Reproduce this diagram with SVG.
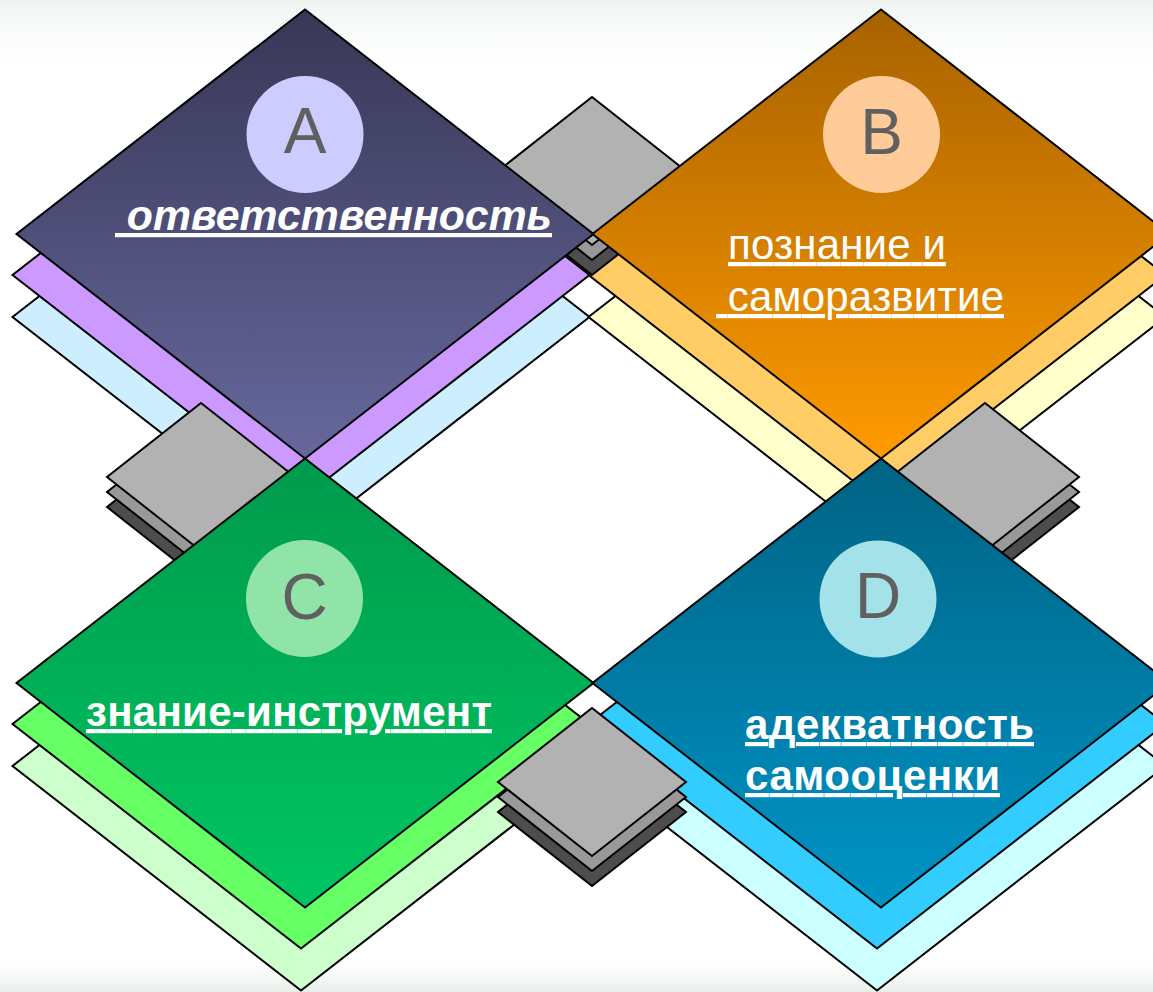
<svg xmlns="http://www.w3.org/2000/svg" xmlns:xlink="http://www.w3.org/1999/xlink" width="1153" height="992" viewBox="0 0 1153 992">
<style>
.st{stroke:#000;stroke-width:2;stroke-linejoin:miter}
.g1{fill:#b2b2b2}.g2{fill:#999999}.g3{fill:#4d4d4d}
.lt{font-family:"Liberation Sans",Arial,sans-serif;font-size:64px;fill:#606060;text-anchor:middle}
.lb{font-family:"Liberation Sans",Arial,sans-serif;font-size:42px;fill:#fff;text-decoration:underline;white-space:pre}
</style>
<defs>
<polygon id="dia" points="0,-224.5 288.5,0 0,224.5 -288.5,0"/>
<polygon id="sq" points="0,-74 94,0 0,74 -94,0"/>
<linearGradient id="gA" x1="0" y1="0" x2="0" y2="1"><stop offset="0" stop-color="#383756"/><stop offset="1" stop-color="#66689d"/></linearGradient>
<linearGradient id="gB" x1="0" y1="0" x2="0" y2="1"><stop offset="0" stop-color="#a76200"/><stop offset="1" stop-color="#ff9a00"/></linearGradient>
<linearGradient id="gC" x1="0" y1="0" x2="0" y2="1"><stop offset="0" stop-color="#009a4c"/><stop offset="1" stop-color="#00c562"/></linearGradient>
<linearGradient id="gD" x1="0" y1="0" x2="0" y2="1"><stop offset="0" stop-color="#006384"/><stop offset="1" stop-color="#0094c6"/></linearGradient>
<linearGradient id="bgT" x1="0" y1="0" x2="0" y2="1"><stop offset="0" stop-color="#eef3f2"/><stop offset="1" stop-color="#ffffff" stop-opacity="0"/></linearGradient>
<linearGradient id="bgB" x1="0" y1="0" x2="0" y2="1"><stop offset="0" stop-color="#ffffff" stop-opacity="0"/><stop offset="1" stop-color="#e9eeea"/></linearGradient>
</defs>
<rect width="1153" height="992" fill="#fff"/>
<rect width="1153" height="80" fill="url(#bgT)"/>
<rect y="950" width="1153" height="42" fill="url(#bgB)"/>

<g id="layers">
  <g id="A-layers">
    <use href="#dia" x="301" y="317" class="st" fill="#cdeeff"/>
    <use href="#dia" x="301" y="275" class="st" fill="#cc99ff"/>
  </g>
  <g id="B-layers">
    <use href="#dia" x="877" y="317" class="st" fill="#ffffcc"/>
    <use href="#dia" x="877" y="275" class="st" fill="#ffcc66"/>
  </g>
  <g id="C-layers">
    <use href="#dia" x="301" y="766" class="st" fill="#ccffcc"/>
    <use href="#dia" x="301" y="724" class="st" fill="#66ff66"/>
  </g>
  <g id="D-layers">
    <use href="#dia" x="877" y="766" class="st" fill="#ccffff"/>
    <use href="#dia" x="877" y="724" class="st" fill="#33ccff"/>
  </g>
</g>

<g id="connectors">
  <g id="link-AB">
    <use href="#sq" x="592" y="201" class="st g3"/>
    <use href="#sq" x="592" y="186" class="st g2"/>
    <use href="#sq" x="592" y="171" class="st g1"/>
  </g>
  <g id="link-AC">
    <use href="#sq" x="201" y="507" class="st g3"/>
    <use href="#sq" x="201" y="492" class="st g2"/>
    <use href="#sq" x="201" y="477" class="st g1"/>
  </g>
  <g id="link-BD">
    <use href="#sq" x="985" y="507" class="st g3"/>
    <use href="#sq" x="985" y="492" class="st g2"/>
    <use href="#sq" x="985" y="477" class="st g1"/>
  </g>
  <g id="link-CD">
    <use href="#sq" x="592" y="812" class="st g3"/>
    <use href="#sq" x="592" y="797" class="st g2"/>
    <use href="#sq" x="592" y="782" class="st g1"/>
  </g>
</g>

<g id="node-A">
  <use href="#dia" x="305" y="234" class="st" fill="url(#gA)"/>
  <circle cx="305" cy="134.5" r="58.5" fill="#ccccff"/>
  <text x="305" y="153" class="lt">A</text>
  <text x="115" y="230" class="lb" font-weight="bold" font-style="italic" textLength="437" lengthAdjust="spacingAndGlyphs" xml:space="preserve"> ответственность</text>
</g>
<g id="node-B">
  <use href="#dia" x="881" y="234" class="st" fill="url(#gB)"/>
  <circle cx="881.5" cy="134.5" r="58.5" fill="#ffcc99"/>
  <text x="881.5" y="154" class="lt">B</text>
  <text x="728" y="259" class="lb" textLength="218" xml:space="preserve">познание и</text>
  <text x="716" y="311" class="lb" textLength="288" xml:space="preserve"> саморазвитие</text>
</g>
<g id="node-C">
  <use href="#dia" x="305" y="683" class="st" fill="url(#gC)"/>
  <circle cx="304.5" cy="598.5" r="58.5" fill="#90e4a8"/>
  <text x="304.5" y="619" class="lt">C</text>
  <text x="86" y="726" class="lb" font-weight="bold" textLength="406">знание-инструмент</text>
</g>
<g id="node-D">
  <use href="#dia" x="881" y="683" class="st" fill="url(#gD)"/>
  <circle cx="878" cy="599" r="58.5" fill="#a4e2ea"/>
  <text x="878" y="618" class="lt">D</text>
  <text x="745" y="739" class="lb" font-weight="bold" textLength="289">адекватность</text>
  <text x="745" y="790" class="lb" font-weight="bold" textLength="255">самооценки</text>
</g>
</svg>
